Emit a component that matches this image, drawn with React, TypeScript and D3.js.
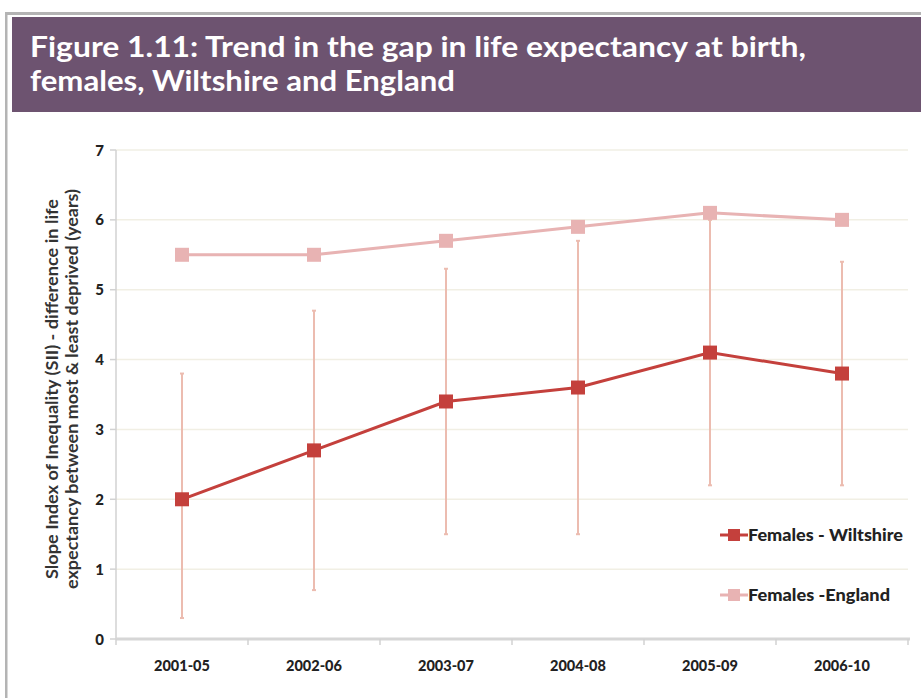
import React from "react";
import * as d3 from "d3";

const categories = ["2001-05", "2002-06", "2003-07", "2004-08", "2005-09", "2006-10"];
const wiltshire = [2.0, 2.7, 3.4, 3.6, 4.1, 3.8];
const england = [5.5, 5.5, 5.7, 5.9, 6.1, 6.0];
const wiltLower = [0.3, 0.7, 1.5, 1.5, 2.2, 2.2];
const wiltUpper = [3.8, 4.7, 5.3, 5.7, 6.0, 5.4];
const yTicks = [0, 1, 2, 3, 4, 5, 6, 7];
const titleLines = [
  "Figure 1.11: Trend in the gap in life expectancy at birth,",
  "females, Wiltshire and England",
];
const yLabelLines = [
  "Slope Index of Inequality (SII) - difference in life",
  "expectancy between most & least deprived (years)",
];
const seriesNames = ["Females - Wiltshire", "Females -England"];

const W = 921;
const H = 698;
const left = 116;
const right = 908;
const top = 150;
const bottom = 639;

const WILT = "#c4403c";
const ENG = "#e8b3b3";
const ERR = "#ecbcb0";
const FONT = "Lato, 'Open Sans', sans-serif";

export default function App() {
  const x = d3.scaleBand<string>().domain(categories).range([left, right]);
  const y = d3.scaleLinear().domain([0, 7]).range([bottom, top]);
  const cx = (c: string) => (x(c) as number) + x.bandwidth() / 2;
  const line = d3
    .line<number>()
    .x((_, i) => cx(categories[i]))
    .y((d) => y(d));
  const boundaries = [...categories.map((c) => x(c) as number), right];

  return (
    <svg
      width={W}
      height={H}
      style={{ position: "absolute", left: 0, top: 0, background: "#fff" }}
    >
      {/* outer border */}
      <rect x={5} y={12} width={W} height={3} fill="#b4b4b4" />
      <rect x={5} y={12} width={2.5} height={H} fill="#b4b4b4" />
      {/* header */}
      <rect x={12} y={17} width={W - 12} height={95} fill="#6d5370" />
      {titleLines.map((t, i) => (
        <text
          key={i}
          x={30}
          y={57 + i * 34}
          fill="#fff"
          fontFamily="Lato, sans-serif"
          fontWeight={700}
          fontSize={28}
          textLength={i === 0 ? 776 : 425}
          lengthAdjust="spacingAndGlyphs"
        >
          {t}
        </text>
      ))}

      {/* gridlines */}
      {yTicks.slice(1).map((t) => (
        <line key={t} x1={left} x2={right} y1={y(t)} y2={y(t)} stroke="#f1efe4" strokeWidth={1.5} />
      ))}
      {/* y axis */}
      <line x1={left} x2={left} y1={top} y2={bottom} stroke="#d2d2d2" strokeWidth={1.5} />
      {yTicks.map((t) => (
        <g key={t}>
          <line x1={left - 6} x2={left} y1={y(t)} y2={y(t)} stroke="#d2d2d2" strokeWidth={1.5} />
          <text
            x={104}
            y={y(t) + 5.5}
            textAnchor="end"
            fontFamily={FONT}
            fontWeight={900}
            fontSize={15}
            fill="#222"
          >
            {t}
          </text>
        </g>
      ))}
      {/* x axis */}
      <line x1={left} x2={right + 2} y1={bottom} y2={bottom} stroke="#d6d6d6" strokeWidth={3} />
      {boundaries.map((b, i) => (
        <line key={i} x1={b} x2={b} y1={bottom} y2={bottom + 6} stroke="#d2d2d2" strokeWidth={1.5} />
      ))}
      {categories.map((c) => (
        <text
          key={c}
          x={cx(c)}
          y={671}
          textAnchor="middle"
          fontFamily={FONT}
          fontWeight={900}
          fontSize={14.5}
          fill="#222"
        >
          {c}
        </text>
      ))}

      {/* y label */}
      {yLabelLines.map((t, i) => (
        <text
          key={i}
          transform={`translate(${58 + i * 20},${389}) rotate(-90)`}
          textAnchor="middle"
          fontFamily={FONT}
          fontWeight={700}
          fontSize={17}
          textLength={i === 0 ? 380 : 400}
          lengthAdjust="spacingAndGlyphs"
          fill="#333"
        >
          {t}
        </text>
      ))}

      {/* error bars */}
      {categories.map((c, i) => (
        <g key={c}>
          <line x1={cx(c)} x2={cx(c)} y1={y(wiltLower[i])} y2={y(wiltUpper[i])} stroke={ERR} strokeWidth={2} />
          <line x1={cx(c) - 2} x2={cx(c) + 2} y1={y(wiltLower[i])} y2={y(wiltLower[i])} stroke={ERR} strokeWidth={2} />
          <line x1={cx(c) - 2} x2={cx(c) + 2} y1={y(wiltUpper[i])} y2={y(wiltUpper[i])} stroke={ERR} strokeWidth={2} />
        </g>
      ))}

      {/* England */}
      <path d={line(england) as string} fill="none" stroke={ENG} strokeWidth={3} />
      {england.map((v, i) => (
        <rect key={i} x={cx(categories[i]) - 7} y={y(v) - 7} width={14} height={14} fill={ENG} />
      ))}
      {/* Wiltshire */}
      <path d={line(wiltshire) as string} fill="none" stroke={WILT} strokeWidth={3} />
      {wiltshire.map((v, i) => (
        <rect key={i} x={cx(categories[i]) - 7} y={y(v) - 7} width={14} height={14} fill={WILT} />
      ))}

      {/* legend */}
      {[WILT, ENG].map((col, i) => {
        const ly = 535 + i * 60;
        return (
          <g key={i}>
            <line x1={720} x2={748} y1={ly} y2={ly} stroke={col} strokeWidth={3} />
            <rect x={728} y={ly - 6} width={12} height={12} fill={col} />
            <text
              x={748}
              y={ly + 6}
              fontFamily={FONT}
              fontWeight={900}
              fontSize={17}
              textLength={i === 0 ? 155 : 142}
              lengthAdjust="spacingAndGlyphs"
              fill="#222"
            >
              {seriesNames[i]}
            </text>
          </g>
        );
      })}
    </svg>
  );
}
